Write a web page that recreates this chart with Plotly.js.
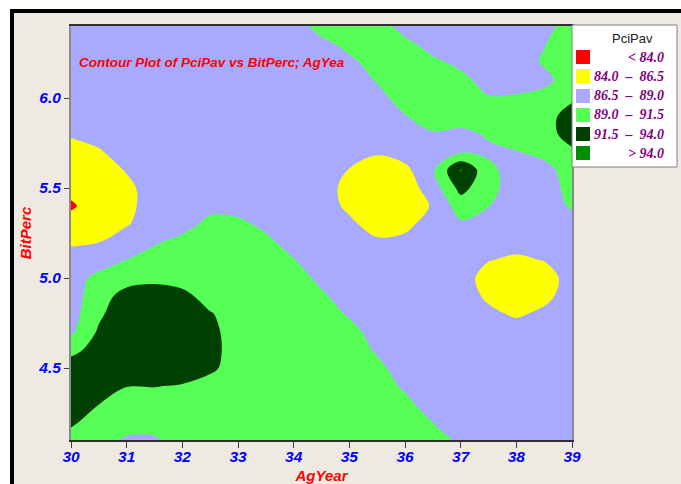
<!DOCTYPE html>
<html>
<head>
<meta charset="utf-8">
<script src="https://cdn.plot.ly/plotly-3.0.1.min.js"></script>
<style>
  html, body { margin: 0; padding: 0; background: #ffffff; }
  #chart { width: 681px; height: 484px; }
</style>
</head>
<body>
<div id="chart"></div>
<script>
// ---- data ----
const agYear = [30, 30.5, 31, 31.5, 32, 32.5, 33, 33.5, 34, 34.5, 35, 35.5, 36, 36.5, 37, 37.5, 38, 38.5, 39];
const bitPerc = [4.1, 4.2, 4.3, 4.4, 4.5, 4.6, 4.7, 4.8, 4.9, 5.0, 5.1, 5.2, 5.3, 5.4, 5.5, 5.6, 5.7, 5.8, 5.9, 6.0, 6.1, 6.2, 6.3, 6.4];
// PciPav estimated on the grid (rows follow bitPerc, columns follow agYear)
const pciPav = [
  [90.4, 90.0, 88.6, 88.6, 90.25, 90.25, 90.25, 90.25, 90.25, 90.25, 90.25, 90.25, 90.25, 90.2, 88.46, 87.75, 87.75, 87.75, 87.75],
  [91.97, 90.3, 90.25, 90.25, 90.25, 90.25, 90.25, 90.25, 90.25, 90.25, 90.25, 90.25, 90.25, 88.95, 87.75, 87.75, 87.75, 87.75, 87.75],
  [92.8, 91.55, 90.0, 90.25, 90.25, 90.25, 90.25, 90.25, 90.25, 90.25, 90.25, 90.25, 89.65, 87.8, 87.75, 87.75, 87.75, 87.75, 87.75],
  [93.0, 92.4, 91.6, 91.6, 91.3, 90.3, 90.25, 90.25, 90.25, 90.25, 90.25, 90.25, 88.6, 87.75, 87.75, 87.75, 87.75, 87.75, 87.75],
  [92.6, 93.3, 93.4, 93.4, 93.0, 92.1, 90.1, 90.25, 90.25, 90.25, 90.25, 89.65, 87.75, 87.75, 87.75, 87.75, 87.75, 87.75, 87.75],
  [90.86, 92.4, 93.3, 93.6, 93.4, 92.5, 90.1, 90.25, 90.25, 90.25, 90.25, 88.7, 87.75, 87.75, 87.75, 87.75, 87.75, 87.75, 87.75],
  [88.55, 91.85, 93.3, 93.6, 93.4, 92.3, 90.1, 90.25, 90.25, 90.25, 89.85, 88.0, 87.75, 87.75, 87.75, 87.75, 87.75, 87.75, 87.75],
  [88.0, 91.06, 93.2, 93.5, 93.3, 91.7, 90.25, 90.25, 90.25, 90.25, 88.7, 87.75, 87.75, 87.75, 87.75, 87.05, 86.15, 87.05, 87.75],
  [88.0, 90.25, 92.6, 92.6, 92.3, 90.35, 90.25, 90.25, 90.25, 89.4, 87.75, 87.75, 87.75, 87.75, 87.75, 86.05, 85.25, 85.8, 87.75],
  [88.0, 89.64, 90.3, 90.95, 90.3, 90.25, 90.25, 90.25, 90.2, 88.33, 87.75, 87.75, 87.75, 87.75, 87.5, 85.6, 85.1, 85.3, 87.6],
  [87.6, 87.8, 89.02, 90.14, 90.25, 90.25, 90.25, 90.25, 89.1, 87.75, 87.75, 87.75, 87.75, 87.75, 87.75, 86.6, 86.05, 86.6, 87.75],
  [86.14, 86.45, 87.75, 88.67, 89.9, 90.25, 90.25, 89.6, 87.9, 87.75, 87.6, 86.95, 87.4, 87.75, 87.75, 87.75, 87.5, 87.75, 87.75],
  [84.9, 85.25, 86.3, 87.75, 87.82, 89.8, 89.6, 88.35, 87.75, 87.75, 87.05, 85.3, 85.6, 88.0, 88.65, 87.9, 87.75, 87.75, 88.0],
  [83.7, 85.1, 85.8, 87.75, 87.8, 88.2, 88.0, 87.75, 87.75, 87.75, 85.95, 85.25, 85.25, 86.7, 90.2, 89.05, 87.75, 87.75, 89.3],
  [84.64, 85.25, 85.86, 87.75, 87.75, 87.75, 87.75, 87.75, 87.75, 87.75, 85.6, 85.25, 85.25, 87.7, 92.3, 89.8, 87.75, 88.0, 89.7],
  [85.1, 85.25, 86.68, 87.75, 87.75, 87.75, 87.75, 87.75, 87.75, 87.75, 86.4, 85.3, 85.88, 88.64, 94.2, 89.6, 87.9, 88.2, 90.1],
  [85.25, 86.22, 87.75, 87.75, 87.75, 87.75, 87.75, 87.75, 87.75, 87.75, 87.7, 86.77, 87.6, 88.3, 88.7, 88.6, 88.9, 89.7, 91.05],
  [86.86, 87.5, 87.75, 87.75, 87.75, 87.75, 87.75, 87.75, 87.75, 87.75, 87.75, 87.75, 87.75, 88.8, 88.45, 89.25, 90.25, 90.4, 92.65],
  [87.75, 87.75, 87.75, 87.75, 87.75, 87.75, 87.75, 87.75, 87.75, 87.75, 87.75, 87.75, 88.9, 90.1, 90.1, 90.25, 90.25, 90.4, 92.7],
  [87.75, 87.75, 87.75, 87.75, 87.75, 87.75, 87.75, 87.75, 87.75, 87.75, 87.75, 88.2, 90.06, 90.25, 90.25, 89.2, 89.35, 89.9, 91.05],
  [87.75, 87.75, 87.75, 87.75, 87.75, 87.75, 87.75, 87.75, 87.75, 87.75, 87.75, 89.2, 90.25, 90.25, 89.78, 87.9, 87.8, 88.3, 90.25],
  [87.75, 87.75, 87.75, 87.75, 87.75, 87.75, 87.75, 87.75, 87.75, 87.75, 88.47, 90.0, 90.25, 89.5, 88.35, 87.75, 87.75, 89.3, 90.25],
  [87.75, 87.75, 87.75, 87.75, 87.75, 87.75, 87.75, 87.75, 87.75, 88.3, 89.77, 90.25, 89.65, 88.0, 87.75, 87.75, 87.75, 88.9, 90.25],
  [87.75, 87.75, 87.75, 87.75, 87.75, 87.75, 87.75, 87.75, 87.75, 90.1, 90.25, 90.25, 87.9, 87.75, 87.75, 87.75, 87.75, 88.1, 90.25]
];
const contourLevels = [84.0, 86.5, 89.0, 91.5, 94.0];
const legendLabels = ['< 84.0', '84.0 \u2013 86.5', '86.5 \u2013 89.0', '89.0 \u2013 91.5', '91.5 \u2013 94.0', '> 94.0'];
const bandColors = ['#FF0000', '#FFFF00', '#A8AAFF', '#55FF55', '#004000', '#008C00'];
const xTicks = [30, 31, 32, 33, 34, 35, 36, 37, 38, 39];
const yTicks = [4.5, 5.0, 5.5, 6.0];
const chartTitle = 'Contour Plot of PciPav vs BitPerc; AgYea';
const legendTitle = 'PciPav';

// ---- layout helpers (pixel -> paper) ----
const L = 71, R = 109, T = 26, B = 44, W = 681, H = 484;
const PW = W - L - R, PH = H - T - B;
const px = v => (v - L) / PW;
const py = v => (H - B - v) / PH;

// step colour scale: one flat colour per band
const cs = [];
bandColors.forEach((c, i) => {
  const a = i === 0 ? 0 : (i - 0.5) / (bandColors.length - 1);
  const b = i === bandColors.length - 1 ? 1 : (i + 0.5) / (bandColors.length - 1);
  cs.push([a, c]); cs.push([b, c]);
});

const step = contourLevels[1] - contourLevels[0];
const trace = {
  type: 'contour',
  x: agYear, y: bitPerc, z: pciPav,
  autocontour: false,
  contours: { start: contourLevels[0], end: contourLevels[contourLevels.length - 1], size: step, coloring: 'fill', showlines: false },
  line: { width: 0, smoothing: 1 },
  colorscale: cs,
  showscale: false,
  hoverinfo: 'skip'
};

const shapes = [
  // window edge: white strip + thick black frame on top and left
  { type: 'rect', xref: 'paper', yref: 'paper', x0: px(0), x1: px(W), y0: py(0), y1: py(9), fillcolor: '#ffffff', line: { width: 0 }, layer: 'above' },
  { type: 'rect', xref: 'paper', yref: 'paper', x0: px(0), x1: px(10), y0: py(0), y1: py(H), fillcolor: '#ffffff', line: { width: 0 }, layer: 'above' },
  { type: 'rect', xref: 'paper', yref: 'paper', x0: px(10), x1: px(W), y0: py(9), y1: py(13), fillcolor: '#000000', line: { width: 0 }, layer: 'above' },
  { type: 'rect', xref: 'paper', yref: 'paper', x0: px(10), x1: px(14), y0: py(9), y1: py(H), fillcolor: '#000000', line: { width: 0 }, layer: 'above' },
  // legend box
  { type: 'rect', xref: 'paper', yref: 'paper', x0: px(572), x1: px(677), y0: py(167), y1: py(25), fillcolor: '#ffffff', line: { color: '#808080', width: 1 }, layer: 'above' }
];
const annotations = [
  { xref: 'paper', yref: 'paper', x: px(77), y: py(62), xanchor: 'left', yanchor: 'middle', showarrow: false,
    text: chartTitle, font: { family: 'Liberation Sans, Arial, sans-serif', size: 13.5, color: '#FF0000', weight: 'bold', style: 'italic' } },
  { xref: 'paper', yref: 'paper', x: px(632), y: py(38), xanchor: 'center', yanchor: 'middle', showarrow: false,
    text: legendTitle, font: { family: 'Liberation Sans, Arial, sans-serif', size: 13, color: '#202020' } }
];
const esc = s => s.replace(/</g, '&lt;').replace(/>/g, '&gt;').replace(/ \u2013 /g, '\u00A0\u00A0\u2013\u00A0\u00A0');
const rowY = [57, 76, 96, 115, 134, 153];
legendLabels.forEach((lab, i) => {
  shapes.push({ type: 'rect', xref: 'paper', yref: 'paper', x0: px(576), x1: px(590), y0: py(rowY[i] + 7), y1: py(rowY[i] - 7),
    fillcolor: bandColors[i], line: { width: 0 }, layer: 'above' });
  annotations.push({ xref: 'paper', yref: 'paper', x: px(666), y: py(rowY[i]), xanchor: 'right', yanchor: 'middle', showarrow: false,
    text: esc(lab), font: { family: 'Liberation Serif, Times New Roman, serif', size: 14, color: '#800080', weight: 'bold', style: 'italic' } });
});

const axisFont = { family: 'Liberation Sans, Arial, sans-serif', size: 15.5, color: '#0000FF', weight: 'bold', style: 'italic' };
const titleFont = { family: 'Liberation Sans, Arial, sans-serif', size: 15, color: '#FF0000', weight: 'bold', style: 'italic' };

const layout = {
  width: W, height: H,
  margin: { l: L, r: R, t: T, b: B, pad: 0 },
  paper_bgcolor: '#EEEAE1',
  plot_bgcolor: '#A8AAFF',
  showlegend: false,
  xaxis: {
    range: [agYear[0], agYear[agYear.length - 1]],
    tickvals: xTicks, ticktext: xTicks.map(String),
    ticks: 'outside', ticklen: 6, tickcolor: '#404040', tickwidth: 1,
    ticklabelstandoff: -5,
    showline: true, linecolor: '#303030', linewidth: 2, mirror: true,
    showgrid: false, zeroline: false, tickfont: axisFont,
    title: { text: 'AgYear', font: titleFont, standoff: 7 }
  },
  yaxis: {
    range: [bitPerc[0], bitPerc[bitPerc.length - 1]],
    tickvals: yTicks, ticktext: yTicks.map(v => v.toFixed(1)),
    ticks: 'outside', ticklen: 5, tickcolor: '#404040', tickwidth: 1,
    showline: true, linecolor: '#8A8A8A', linewidth: 2, mirror: true,
    showgrid: false, zeroline: false, tickfont: axisFont,
    title: { text: 'BitPerc', font: titleFont, standoff: 3 }
  },
  shapes: shapes,
  annotations: annotations
};

Plotly.newPlot('chart', [trace], layout, { staticPlot: true, displayModeBar: false });
</script>
</body>
</html>
